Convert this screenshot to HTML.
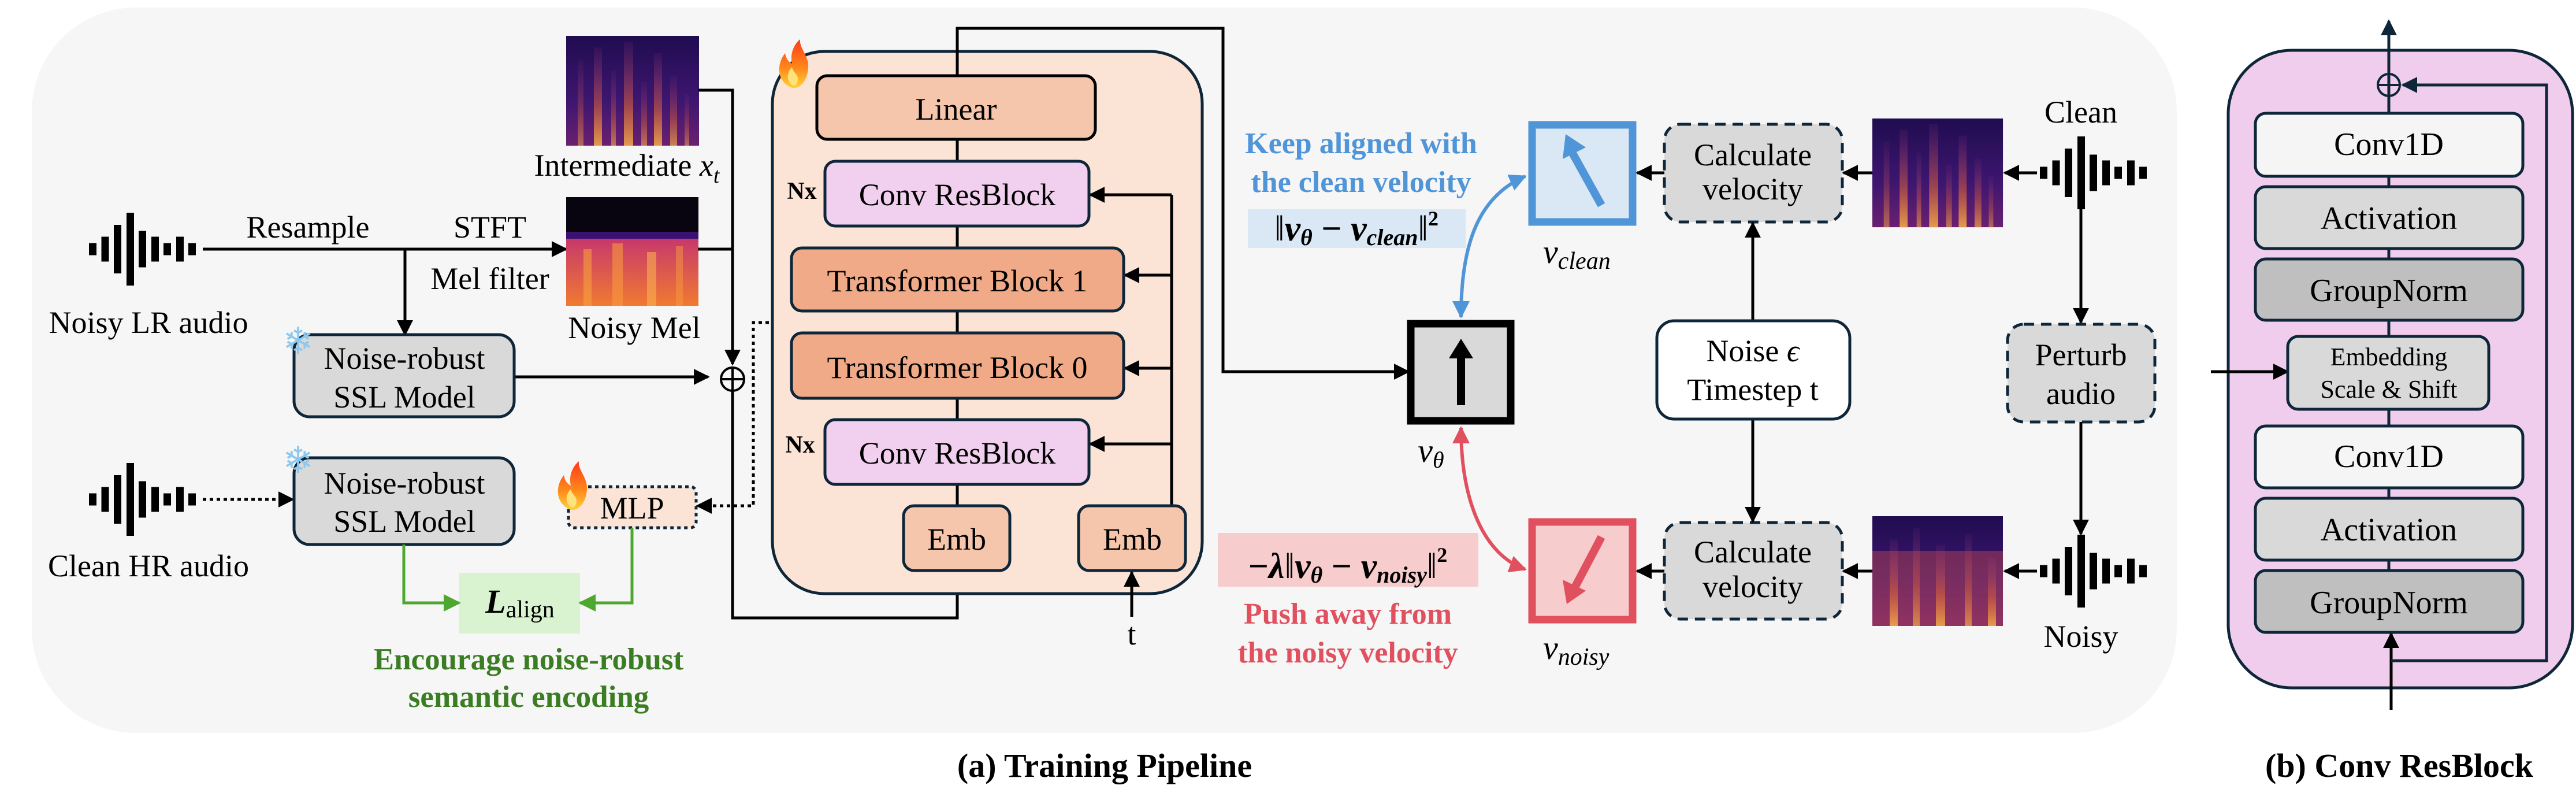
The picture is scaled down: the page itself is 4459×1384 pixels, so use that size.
<!DOCTYPE html>
<html><head><meta charset="utf-8"><style>
html,body{margin:0;padding:0;background:#fff;}
svg{display:block;}
svg text{font-family:"Liberation Serif","Times New Roman",Times,serif;}
</style></head><body>
<svg width="4459" height="1384" viewBox="0 0 4459 1384" xmlns="http://www.w3.org/2000/svg" font-family="Liberation Serif, Times New Roman, serif">
<defs>
<marker id="ah" markerUnits="userSpaceOnUse" viewBox="0 0 10 10" markerWidth="28" markerHeight="28" refX="9" refY="5" orient="auto-start-reverse"><path d="M0,0 L10,5 L0,10 z" fill="#000"/></marker>
<marker id="ahn" markerUnits="userSpaceOnUse" viewBox="0 0 10 10" markerWidth="28" markerHeight="28" refX="9" refY="5" orient="auto-start-reverse"><path d="M0,0 L10,5 L0,10 z" fill="#0e2639"/></marker>
<marker id="ahg" markerUnits="userSpaceOnUse" viewBox="0 0 10 10" markerWidth="30" markerHeight="30" refX="9" refY="5" orient="auto"><path d="M0,0 L10,5 L0,10 z" fill="#4ea72e"/></marker>
<marker id="ahb" markerUnits="userSpaceOnUse" viewBox="0 0 10 10" markerWidth="30" markerHeight="30" refX="9" refY="5" orient="auto-start-reverse"><path d="M0,0 L10,5 L0,10 z" fill="#4f95d8"/></marker>
<marker id="ahr" markerUnits="userSpaceOnUse" viewBox="0 0 10 10" markerWidth="30" markerHeight="30" refX="9" refY="5" orient="auto-start-reverse"><path d="M0,0 L10,5 L0,10 z" fill="#e0505f"/></marker>
<linearGradient id="specbg" x1="0" y1="0" x2="0" y2="1"><stop offset="0" stop-color="#200c50"/><stop offset="0.6" stop-color="#3e1670"/><stop offset="1" stop-color="#6a2070"/></linearGradient>
<linearGradient id="streak" x1="0" y1="0" x2="0" y2="1"><stop offset="0" stop-color="#a03a80" stop-opacity="0.1"/><stop offset="0.6" stop-color="#d8603a" stop-opacity="0.6"/><stop offset="1" stop-color="#f0a848" stop-opacity="0.9"/></linearGradient>
<linearGradient id="melbg" x1="0" y1="0" x2="0" y2="1"><stop offset="0" stop-color="#6a1a90"/><stop offset="0.4" stop-color="#c83a6a"/><stop offset="1" stop-color="#f07a30"/></linearGradient>
<linearGradient id="fire" x1="0" y1="0" x2="0" y2="1"><stop offset="0" stop-color="#ff3a1a"/><stop offset="0.6" stop-color="#ff8a1a"/><stop offset="1" stop-color="#ffd23a"/></linearGradient>
<g id="wave" fill="#000">
<rect x="0" y="-10.5" width="13" height="21"/><rect x="21.5" y="-21.5" width="13" height="43"/><rect x="43" y="-42" width="13" height="84"/><rect x="65" y="-63" width="13" height="126"/><rect x="86" y="-31.5" width="13" height="63"/><rect x="108" y="-21.5" width="13" height="43"/><rect x="129" y="-10.5" width="13" height="21"/><rect x="151" y="-21.5" width="13" height="43"/><rect x="172" y="-10.5" width="13" height="21"/>
</g>
<g id="spec">
<rect x="0" y="0" width="230" height="190" fill="url(#specbg)"/>
<rect x="20" y="40" width="10" height="150" fill="url(#streak)" opacity="0.6"/>
<rect x="48" y="20" width="14" height="170" fill="url(#streak)"/>
<rect x="78" y="60" width="8" height="130" fill="url(#streak)" opacity="0.7"/>
<rect x="100" y="10" width="16" height="180" fill="url(#streak)"/>
<rect x="130" y="80" width="10" height="110" fill="url(#streak)" opacity="0.7"/>
<rect x="152" y="30" width="14" height="160" fill="url(#streak)"/>
<rect x="180" y="70" width="12" height="120" fill="url(#streak)" opacity="0.8"/>
<rect x="205" y="100" width="8" height="90" fill="url(#streak)" opacity="0.6"/>
</g>
<g id="flame"><path d="M0,40 C-26,30 -28,0 -12,-20 C-10,-8 -4,-4 0,-2 C-4,-20 4,-36 14,-44 C12,-28 30,-16 28,6 C26,28 14,42 0,40 z" fill="url(#fire)"/><path d="M2,36 C-10,30 -10,14 0,4 C2,14 10,16 10,24 C10,32 6,36 2,36 z" fill="#ffe27a"/></g>
</defs>

<rect x="55" y="13" width="3713" height="1255" rx="180" fill="#f6f6f6"/>

<use href="#wave" x="154" y="431"/>
<use href="#wave" x="154" y="864"/>
<text x="257" y="576" font-size="54" text-anchor="middle">Noisy LR audio</text>
<text x="257" y="997" font-size="54" text-anchor="middle">Clean HR audio</text>

<line x1="351" y1="431" x2="980" y2="431" stroke="#000" stroke-width="5" marker-end="url(#ah)"/>
<line x1="701" y1="431" x2="701" y2="579" stroke="#000" stroke-width="5" marker-end="url(#ah)"/>
<text x="533" y="411" font-size="54" text-anchor="middle">Resample</text>
<text x="848" y="411" font-size="54" text-anchor="middle">STFT</text>
<text x="848" y="500" font-size="54" text-anchor="middle">Mel filter</text>
<line x1="351" y1="864" x2="507" y2="864" stroke="#000" stroke-width="5" stroke-dasharray="6 6" marker-end="url(#ah)"/>

<use href="#spec" x="980" y="62"/>
<g transform="translate(980,341)">
<rect x="0" y="0" width="229" height="188" fill="url(#melbg)"/>
<rect x="0" y="0" width="229" height="65" fill="#080410"/>
<rect x="0" y="60" width="229" height="12" fill="#3a1070"/>
<rect x="30" y="90" width="14" height="98" fill="#f8a040" opacity="0.6"/>
<rect x="80" y="80" width="18" height="108" fill="#f89a40" opacity="0.6"/>
<rect x="140" y="95" width="16" height="93" fill="#fab050" opacity="0.6"/>
<rect x="190" y="85" width="12" height="103" fill="#f89a40" opacity="0.5"/>
</g>
<text x="1085" y="304" font-size="54" text-anchor="middle">Intermediate <tspan font-style="italic">x</tspan><tspan font-style="italic" font-size="38" dy="12">t</tspan></text>
<text x="1098" y="585" font-size="54" text-anchor="middle">Noisy Mel</text>
<polyline points="1209,156 1268,156 1268,630" fill="none" stroke="#000" stroke-width="5" marker-end="url(#ah)"/>
<line x1="1208" y1="431" x2="1268" y2="431" stroke="#000" stroke-width="5"/>
<line x1="890" y1="652" x2="1226" y2="652" stroke="#000" stroke-width="5" marker-end="url(#ah)"/>
<circle cx="1268" cy="656" r="20" fill="none" stroke="#000" stroke-width="4"/>
<line x1="1248" y1="656" x2="1288" y2="656" stroke="#000" stroke-width="4"/>
<line x1="1268" y1="636" x2="1268" y2="676" stroke="#000" stroke-width="4"/>
<polyline points="1268,676 1268,1069 1657,1069 1657,990" fill="none" stroke="#000" stroke-width="5" marker-end="url(#ah)"/>
<polyline points="1655,558 1304,558 1304,875 1207,875" fill="none" stroke="#000" stroke-width="5" stroke-dasharray="6 6" marker-end="url(#ah)"/>

<rect x="509" y="579" width="381" height="142" rx="27" fill="#d9d9d9" stroke="#0e2639" stroke-width="5"/>
<text x="700" y="638" font-size="54" text-anchor="middle">Noise-robust</text>
<text x="700" y="705" font-size="54" text-anchor="middle">SSL Model</text>
<rect x="509" y="792" width="381" height="150" rx="27" fill="#d9d9d9" stroke="#0e2639" stroke-width="5"/>
<text x="700" y="854" font-size="54" text-anchor="middle">Noise-robust</text>
<text x="700" y="920" font-size="54" text-anchor="middle">SSL Model</text>
<text x="516" y="612" font-size="64" text-anchor="middle" fill="#8cc8f0">❄</text>
<text x="516" y="818" font-size="64" text-anchor="middle" fill="#8cc8f0">❄</text>

<rect x="984" y="842" width="221" height="71" rx="10" fill="#fbe3d6" stroke="#0e2639" stroke-width="5" stroke-dasharray="6 6"/>
<text x="1094" y="897" font-size="54" text-anchor="middle">MLP</text>
<use href="#flame" x="988" y="842"/>

<rect x="795" y="991" width="209" height="105" fill="#d9f2d0"/>
<text x="900" y="1060" font-size="58" text-anchor="middle"><tspan font-weight="bold" font-style="italic">L</tspan><tspan font-size="42" dy="8">align</tspan></text>
<polyline points="699,942 699,1043 795,1043" fill="none" stroke="#4ea72e" stroke-width="5" marker-end="url(#ahg)"/>
<polyline points="1094,913 1094,1043 1004,1043" fill="none" stroke="#4ea72e" stroke-width="5" marker-end="url(#ahg)"/>
<text x="915" y="1158" font-size="53" font-weight="bold" fill="#3a7d22" text-anchor="middle">Encourage noise-robust</text>
<text x="915" y="1223" font-size="53" font-weight="bold" fill="#3a7d22" text-anchor="middle">semantic encoding</text>

<rect x="1337" y="89" width="744" height="938" rx="90" fill="#fbe3d6" stroke="#0e2639" stroke-width="5"/>
<use href="#flame" x="1371" y="112"/>
<polyline points="1657,875 1657,49 2117,49 2117,643 2438,643" fill="none" stroke="#000" stroke-width="5" marker-end="url(#ah)"/>
<polyline points="2028,875 2028,337" fill="none" stroke="#000" stroke-width="5"/>
<line x1="2028" y1="337" x2="1887" y2="337" stroke="#000" stroke-width="5" marker-end="url(#ah)"/>
<line x1="2028" y1="476" x2="1947" y2="476" stroke="#000" stroke-width="5" marker-end="url(#ah)"/>
<line x1="2028" y1="637" x2="1947" y2="637" stroke="#000" stroke-width="5" marker-end="url(#ah)"/>
<line x1="2028" y1="768" x2="1887" y2="768" stroke="#000" stroke-width="5" marker-end="url(#ah)"/>
<line x1="1959" y1="1067" x2="1959" y2="990" stroke="#000" stroke-width="5" marker-end="url(#ah)"/>
<text x="1959" y="1115" font-size="54" text-anchor="middle">t</text>

<rect x="1414" y="131" width="482" height="110" rx="18" fill="#f5c6ac" stroke="#000" stroke-width="5"/>
<text x="1655" y="207" font-size="54" text-anchor="middle">Linear</text>
<rect x="1428" y="279" width="457" height="112" rx="18" fill="#f1cfee" stroke="#0e2639" stroke-width="5"/>
<text x="1657" y="355" font-size="54" text-anchor="middle">Conv ResBlock</text>
<rect x="1370" y="429" width="575" height="109" rx="18" fill="#f0aa88" stroke="#0e2639" stroke-width="5"/>
<text x="1657" y="504" font-size="54" text-anchor="middle">Transformer Block 1</text>
<rect x="1370" y="576" width="575" height="113" rx="18" fill="#f0aa88" stroke="#0e2639" stroke-width="5"/>
<text x="1657" y="654" font-size="54" text-anchor="middle">Transformer Block 0</text>
<rect x="1428" y="726" width="457" height="112" rx="18" fill="#f1cfee" stroke="#0e2639" stroke-width="5"/>
<text x="1657" y="802" font-size="54" text-anchor="middle">Conv ResBlock</text>
<rect x="1564" y="875" width="184" height="112" rx="18" fill="#f5c6ac" stroke="#0e2639" stroke-width="5"/>
<text x="1656" y="951" font-size="54" text-anchor="middle">Emb</text>
<rect x="1867" y="875" width="185" height="112" rx="18" fill="#f5c6ac" stroke="#0e2639" stroke-width="5"/>
<text x="1960" y="951" font-size="54" text-anchor="middle">Emb</text>
<text x="1388" y="344" font-size="42" font-weight="bold" text-anchor="middle">Nx</text>
<text x="1385" y="783" font-size="42" font-weight="bold" text-anchor="middle">Nx</text>

<rect x="2442" y="560" width="173" height="168" fill="#d9d9d9" stroke="#000" stroke-width="13"/>
<rect x="2522" y="618" width="14" height="83" fill="#000"/>
<polygon points="2508,620 2550,620 2529,586" fill="#000"/>
<text x="2477" y="799" font-size="58" text-anchor="middle"><tspan font-style="italic">v</tspan><tspan font-style="italic" font-size="40" dy="10">θ</tspan></text>

<path d="M2529,548 C2529,420 2560,340 2640,305" fill="none" stroke="#4f95d8" stroke-width="6" marker-start="url(#ahb)" marker-end="url(#ahb)"/>
<path d="M2529,740 C2529,870 2570,960 2640,985" fill="none" stroke="#e0505f" stroke-width="6" marker-start="url(#ahr)" marker-end="url(#ahr)"/>

<text x="2356" y="265" font-size="52" font-weight="bold" fill="#4f95d8" text-anchor="middle">Keep aligned with</text>
<text x="2356" y="332" font-size="52" font-weight="bold" fill="#4f95d8" text-anchor="middle">the clean velocity</text>
<rect x="2160" y="362" width="377" height="67" fill="#dae8f5"/>
<text x="2348" y="416" font-size="62" text-anchor="middle" font-weight="bold"><tspan font-weight="normal">‖</tspan><tspan font-style="italic">v</tspan><tspan font-size="40" dy="8" font-style="italic">θ</tspan><tspan dy="-8"> − </tspan><tspan font-style="italic">v</tspan><tspan font-size="40" dy="8" font-style="italic">clean</tspan><tspan dy="-8" font-weight="normal">‖</tspan><tspan font-size="36" dy="-26">2</tspan></text>
<rect x="2108" y="922" width="451" height="93" fill="#f6cccc"/>
<text x="2333" y="1000" font-size="62" text-anchor="middle" font-weight="bold">−<tspan font-style="italic">λ</tspan><tspan font-weight="normal">‖</tspan><tspan font-style="italic">v</tspan><tspan font-size="40" dy="8" font-style="italic">θ</tspan><tspan dy="-8"> − </tspan><tspan font-style="italic">v</tspan><tspan font-size="40" dy="8" font-style="italic">noisy</tspan><tspan dy="-8" font-weight="normal">‖</tspan><tspan font-size="36" dy="-28">2</tspan></text>
<text x="2333" y="1079" font-size="52" font-weight="bold" fill="#e0505f" text-anchor="middle">Push away from</text>
<text x="2333" y="1146" font-size="52" font-weight="bold" fill="#e0505f" text-anchor="middle">the noisy velocity</text>

<rect x="2652" y="216" width="174" height="168" fill="#dae8f5" stroke="#4f95d8" stroke-width="13"/>
<line x1="2772" y1="355" x2="2722" y2="265" stroke="#4f95d8" stroke-width="14"/>
<polygon points="2710,232 2705,275 2745,255" fill="#4f95d8"/>
<text x="2671" y="455" font-size="58" font-style="italic">v<tspan font-size="42" dy="10">clean</tspan></text>
<rect x="2652" y="903" width="174" height="169" fill="#f6cccc" stroke="#e0505f" stroke-width="13"/>
<line x1="2772" y1="929" x2="2724" y2="1020" stroke="#e0505f" stroke-width="14"/>
<polygon points="2712,1045 2705,1003 2745,1022" fill="#e0505f"/>
<text x="2671" y="1140" font-size="58" font-style="italic">v<tspan font-size="42" dy="10">noisy</tspan></text>

<line x1="2881" y1="299" x2="2834" y2="299" stroke="#000" stroke-width="5" marker-end="url(#ah)"/>
<line x1="2881" y1="988" x2="2834" y2="988" stroke="#000" stroke-width="5" marker-end="url(#ah)"/>
<rect x="2881" y="215" width="308" height="169" rx="28" fill="#d9d9d9" stroke="#0e2639" stroke-width="5" stroke-dasharray="18 12"/>
<text x="3034" y="286" font-size="54" text-anchor="middle">Calculate</text>
<text x="3034" y="345" font-size="54" text-anchor="middle">velocity</text>
<rect x="2881" y="904" width="308" height="167" rx="28" fill="#d9d9d9" stroke="#0e2639" stroke-width="5" stroke-dasharray="18 12"/>
<text x="3034" y="973" font-size="54" text-anchor="middle">Calculate</text>
<text x="3034" y="1033" font-size="54" text-anchor="middle">velocity</text>
<line x1="3034" y1="555" x2="3034" y2="386" stroke="#000" stroke-width="5" marker-end="url(#ah)"/>
<line x1="3034" y1="725" x2="3034" y2="902" stroke="#000" stroke-width="5" marker-end="url(#ah)"/>
<rect x="2868" y="555" width="334" height="170" rx="30" fill="#fff" stroke="#0e2639" stroke-width="5"/>
<text x="3034" y="625" font-size="54" text-anchor="middle">Noise <tspan font-style="italic">ϵ</tspan></text>
<text x="3034" y="692" font-size="54" text-anchor="middle">Timestep t</text>

<line x1="3241" y1="299" x2="3191" y2="299" stroke="#000" stroke-width="5" marker-end="url(#ah)"/>
<line x1="3241" y1="988" x2="3191" y2="988" stroke="#000" stroke-width="5" marker-end="url(#ah)"/>
<g transform="translate(3241,205) scale(0.983,0.99)"><use href="#spec"/></g>
<g transform="translate(3241,893)">
<rect x="0" y="0" width="226" height="190" fill="url(#specbg)"/>
<rect x="0" y="60" width="226" height="130" fill="#c04a50" opacity="0.45"/>
<rect x="30" y="40" width="14" height="150" fill="url(#streak)"/>
<rect x="70" y="20" width="12" height="170" fill="url(#streak)" opacity="0.8"/>
<rect x="110" y="50" width="16" height="140" fill="url(#streak)"/>
<rect x="160" y="30" width="12" height="160" fill="url(#streak)" opacity="0.8"/>
<rect x="200" y="70" width="14" height="120" fill="url(#streak)"/>
</g>
<line x1="3526" y1="299" x2="3470" y2="299" stroke="#000" stroke-width="5" marker-end="url(#ah)"/>
<line x1="3526" y1="988" x2="3470" y2="988" stroke="#000" stroke-width="5" marker-end="url(#ah)"/>
<use href="#wave" x="3531" y="299"/>
<use href="#wave" x="3531" y="988"/>
<text x="3602" y="212" font-size="54" text-anchor="middle">Clean</text>
<text x="3602" y="1119" font-size="54" text-anchor="middle">Noisy</text>
<line x1="3602" y1="362" x2="3602" y2="558" stroke="#000" stroke-width="5" marker-end="url(#ah)"/>
<line x1="3602" y1="730" x2="3602" y2="924" stroke="#000" stroke-width="5" marker-end="url(#ah)"/>
<rect x="3475" y="561" width="255" height="169" rx="28" fill="#d9d9d9" stroke="#0e2639" stroke-width="5" stroke-dasharray="18 12"/>
<text x="3602" y="632" font-size="54" text-anchor="middle">Perturb</text>
<text x="3602" y="699" font-size="54" text-anchor="middle">audio</text>

<rect x="3857" y="87" width="596" height="1103" rx="110" fill="#f0cdec" stroke="#0e2639" stroke-width="5"/>
<line x1="4135" y1="1094" x2="4135" y2="36" stroke="#0e2639" stroke-width="5" marker-end="url(#ahn)"/>
<line x1="4139" y1="1228" x2="4139" y2="1096" stroke="#000" stroke-width="5" marker-end="url(#ah)"/>
<polyline points="4139,1143 4408,1143 4408,147 4159,147" fill="none" stroke="#0e2639" stroke-width="5" marker-end="url(#ahn)"/>
<circle cx="4135" cy="147" r="19" fill="none" stroke="#0e2639" stroke-width="4"/>
<line x1="4116" y1="147" x2="4154" y2="147" stroke="#0e2639" stroke-width="4"/>
<line x1="3827" y1="643" x2="3960" y2="643" stroke="#000" stroke-width="5" marker-end="url(#ah)"/>
<rect x="3904" y="196" width="463" height="109" rx="18" fill="#f5f5f5" stroke="#0e2639" stroke-width="5"/>
<text x="4135" y="268" font-size="56" text-anchor="middle">Conv1D</text>
<rect x="3904" y="323" width="463" height="107" rx="18" fill="#d9d9d9" stroke="#0e2639" stroke-width="5"/>
<text x="4135" y="396" font-size="56" text-anchor="middle">Activation</text>
<rect x="3904" y="448" width="463" height="106" rx="18" fill="#bfbfbf" stroke="#0e2639" stroke-width="5"/>
<text x="4135" y="521" font-size="56" text-anchor="middle">GroupNorm</text>
<rect x="3960" y="582" width="348" height="126" rx="18" fill="#d9d9d9" stroke="#0e2639" stroke-width="5"/>
<text x="4135" y="632" font-size="44" text-anchor="middle">Embedding</text>
<text x="4135" y="688" font-size="44" text-anchor="middle">Scale &amp; Shift</text>
<rect x="3904" y="737" width="463" height="107" rx="18" fill="#f5f5f5" stroke="#0e2639" stroke-width="5"/>
<text x="4135" y="808" font-size="56" text-anchor="middle">Conv1D</text>
<rect x="3904" y="862" width="463" height="107" rx="18" fill="#d9d9d9" stroke="#0e2639" stroke-width="5"/>
<text x="4135" y="935" font-size="56" text-anchor="middle">Activation</text>
<rect x="3904" y="987" width="463" height="107" rx="18" fill="#bfbfbf" stroke="#0e2639" stroke-width="5"/>
<text x="4135" y="1061" font-size="56" text-anchor="middle">GroupNorm</text>

<text x="1912" y="1344" font-size="58" font-weight="bold" text-anchor="middle">(a) Training Pipeline</text>
<text x="4153" y="1344" font-size="58" font-weight="bold" text-anchor="middle">(b) Conv ResBlock</text>
</svg>
</body></html>
